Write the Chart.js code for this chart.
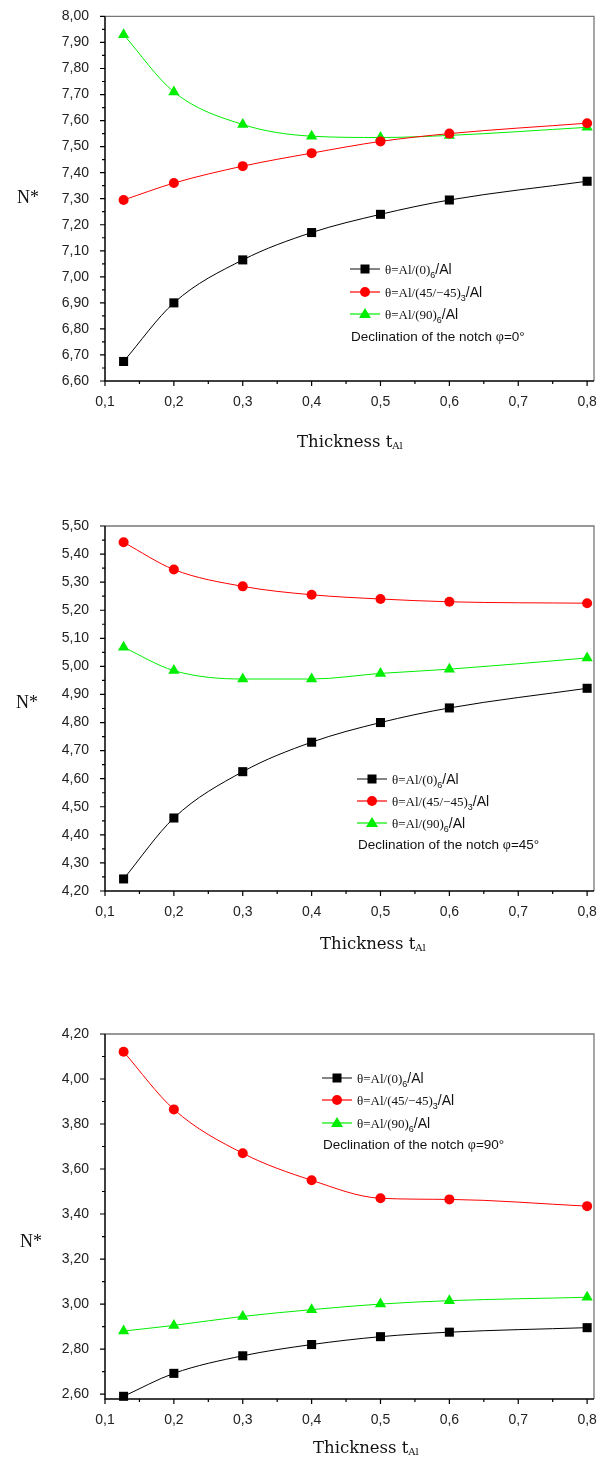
<!DOCTYPE html>
<html lang="en">
<head>
  <meta charset="UTF-8">
  <title>N* vs thickness</title>
  <script src="https://cdn.jsdelivr.net/npm/chart.js"></script>
  <style>
    body { margin: 0; background: #fff; }
    #page { position: relative; width: 605px; height: 1461px; overflow: hidden; }
    canvas { position: absolute; left: 0; }
    .ytitle { position: absolute; font-family: 'Liberation Serif', serif; font-size: 18px; line-height: 22px; color: #111; }
    .xtitle { position: absolute; font-family: 'DejaVu Serif', serif; font-size: 16.5px; line-height: 22px; color: #111; }
    .xtitle sub { font-size: 10px; vertical-align: -2px; }
    .leg { position: absolute; height: 22px; line-height: 22px; display: flex; align-items: center; white-space: nowrap; color: #111; }
    .leg svg { margin-right: 5px; flex: none; }
    .ser { font-family: 'Liberation Serif', serif; font-size: 13px; }
    .san { font-family: 'Liberation Sans', sans-serif; font-size: 14px; }
    .leg sub { font-family: 'Liberation Sans', sans-serif; font-size: 9px; vertical-align: -4px; line-height: 0; }
    .decl { font-family: 'Liberation Sans', sans-serif; font-size: 13.5px; }
  </style>
</head>
<body>
<div id="page">
  <canvas id="c1" width="605" height="470" style="top:0"></canvas>
  <canvas id="c2" width="605" height="490" style="top:480px"></canvas>
  <canvas id="c3" width="605" height="481" style="top:980px"></canvas>
  <div id="overlay"></div>
</div>

<script>
// thickness t_Al
const thickness = [0.127, 0.2, 0.3, 0.4, 0.5, 0.6, 0.8];

// declination 0°
const p0_lam0  = [6.675, 6.90, 7.065, 7.17, 7.24, 7.295, 7.367];
const p0_lam45 = [7.295, 7.36, 7.425, 7.475, 7.52, 7.55, 7.59];
const p0_lam90 = [7.93, 7.71, 7.585, 7.54, 7.535, 7.543, 7.574];

// declination 45°
const p45_lam0  = [4.243, 4.46, 4.625, 4.73, 4.80, 4.852, 4.922];
const p45_lam45 = [5.442, 5.345, 5.285, 5.255, 5.24, 5.23, 5.225];
const p45_lam90 = [5.068, 4.985, 4.955, 4.955, 4.975, 4.99, 5.03];

// declination 90°
const p90_lam0  = [2.59, 2.692, 2.77, 2.82, 2.855, 2.875, 2.895];
const p90_lam45 = [4.121, 3.865, 3.67, 3.55, 3.47, 3.465, 3.435];
const p90_lam90 = [2.88, 2.905, 2.945, 2.975, 3.0, 3.015, 3.03];

// tick values
const xMajor = [0.1, 0.2, 0.3, 0.4, 0.5, 0.6, 0.7, 0.8];
const xMinor = [0.15, 0.25, 0.35, 0.45, 0.55, 0.65, 0.75];
const y1Major = [6.6, 6.7, 6.8, 6.9, 7.0, 7.1, 7.2, 7.3, 7.4, 7.5, 7.6, 7.7, 7.8, 7.9, 8.0];
const y1Minor = [6.65, 6.75, 6.85, 6.95, 7.05, 7.15, 7.25, 7.35, 7.45, 7.55, 7.65, 7.75, 7.85, 7.95];
const y2Major = [4.2, 4.3, 4.4, 4.5, 4.6, 4.7, 4.8, 4.9, 5.0, 5.1, 5.2, 5.3, 5.4, 5.5];
const y2Minor = [4.25, 4.35, 4.45, 4.55, 4.65, 4.75, 4.85, 4.95, 5.05, 5.15, 5.25, 5.35, 5.45];
const y3Major = [2.6, 2.8, 3.0, 3.2, 3.4, 3.6, 3.8, 4.0, 4.2];
const y3Minor = [2.7, 2.9, 3.1, 3.3, 3.5, 3.7, 3.9, 4.1];

const seriesNames = ['θ=Al/(0)6/Al', 'θ=Al/(45/−45)3/Al', 'θ=Al/(90)6/Al'];

// draws the Origin-like frame and the major/minor ticks
const frame = {
  id: 'frame',
  afterDraw(chart, args, opts) {
    const {ctx, chartArea: a, scales: {x, y}} = chart;
    ctx.save();
    ctx.lineWidth = 1.3;
    ctx.strokeStyle = '#777';
    ctx.beginPath();
    ctx.moveTo(a.left, a.top); ctx.lineTo(a.right, a.top); ctx.lineTo(a.right, a.bottom);
    ctx.stroke();
    ctx.strokeStyle = '#000';
    ctx.lineWidth = 1.5;
    ctx.beginPath();
    ctx.moveTo(a.left, a.top); ctx.lineTo(a.left, a.bottom); ctx.lineTo(a.right, a.bottom);
    ctx.stroke();
    ctx.lineWidth = 1.2;
    ctx.beginPath();
    xMajor.forEach(v => { const px = x.getPixelForValue(v); ctx.moveTo(px, a.bottom); ctx.lineTo(px, a.bottom + 5); });
    xMinor.forEach(v => { const px = x.getPixelForValue(v); ctx.moveTo(px, a.bottom); ctx.lineTo(px, a.bottom + 3); });
    opts.yMajor.forEach(v => { const py = y.getPixelForValue(v); ctx.moveTo(a.left, py); ctx.lineTo(a.left - 5, py); });
    opts.yMinor.forEach(v => { const py = y.getPixelForValue(v); ctx.moveTo(a.left, py); ctx.lineTo(a.left - 3, py); });
    ctx.stroke();
    ctx.restore();
  }
};

function ds(label, vals, color, style, r) {
  return {
    label: label,
    data: thickness.map((t, i) => ({x: t, y: vals[i]})),
    borderColor: color,
    backgroundColor: color,
    borderWidth: 1,
    pointStyle: style,
    pointRadius: r,
    pointBorderWidth: 0,
    cubicInterpolationMode: 'monotone',
    clip: false
  };
}

function makeChart(id, s, yMin, yMax, yMajor, yMinor, plotTop, axisH) {
  new Chart(document.getElementById(id), {
    type: 'line',
    data: {
      datasets: [
        ds(seriesNames[0], s[0], '#000000', 'rect', 6.4),
        ds(seriesNames[1], s[1], '#ff0000', 'circle', 5),
        ds(seriesNames[2], s[2], '#00ee00', 'triangle', 6.5)
      ]
    },
    options: {
      responsive: false,
      animation: false,
      layout: { padding: { top: plotTop, right: 11, left: 0, bottom: 0 } },
      plugins: { legend: { display: false }, tooltip: { enabled: false }, frame: { yMajor, yMinor } },
      scales: {
        x: {
          type: 'linear', min: 0.1, max: 0.81,
          grid: { display: false }, border: { display: false },
          afterBuildTicks: sc => { sc.ticks = xMajor.map(v => ({value: v})); },
          afterFit: sc => { sc.height = axisH; },
          ticks: { padding: 5, color: '#222', font: { family: 'Liberation Sans', size: 14 },
                   callback: v => v.toFixed(1).replace('.', ',') }
        },
        y: {
          type: 'linear', min: yMin, max: yMax,
          grid: { display: false }, border: { display: false },
          afterBuildTicks: sc => { sc.ticks = yMajor.map(v => ({value: v})); },
          afterFit: sc => { sc.width = 105; },
          ticks: { padding: 8, color: '#222', font: { family: 'Liberation Sans', size: 14 },
                   callback: v => v.toFixed(2).replace('.', ',') }
        }
      }
    },
    plugins: [frame]
  });
}

makeChart('c1', [p0_lam0, p0_lam45, p0_lam90], 6.6, 8.0, y1Major, y1Minor, 16, 470 - 381);
makeChart('c2', [p45_lam0, p45_lam45, p45_lam90], 4.2, 5.5, y2Major, y2Minor, 46, 490 - 411);
makeChart('c3', [p90_lam0, p90_lam45, p90_lam90], 2.578, 4.2, y3Major, y3Minor, 54, 481 - 419);

// text overlays: axis titles and legends
const ov = document.getElementById('overlay');
function put(html, cls, left, cy) {
  const d = document.createElement('div');
  d.className = cls;
  d.innerHTML = html;
  d.style.left = left + 'px';
  d.style.top = (cy - 11) + 'px';
  ov.appendChild(d);
}
function sym(color, kind) {
  let m;
  if (kind === 'rect') m = `<rect x="10.5" y="6.5" width="9" height="9" fill="${color}"/>`;
  else if (kind === 'circle') m = `<circle cx="15" cy="11" r="5" fill="${color}"/>`;
  else m = `<polygon points="15,5 21,15 9,15" fill="${color}"/>`;
  return `<svg width="30" height="22"><line x1="0" y1="11" x2="30" y2="11" stroke="${color === '#000000' ? '#333' : color}" stroke-width="1.2"/>${m}</svg>`;
}
const legText = [
  '<span class="ser">θ=Al/(0)</span><sub>6</sub><span class="san">/Al</span>',
  '<span class="ser">θ=Al/(45/−45)</span><sub>3</sub><span class="san">/Al</span>',
  '<span class="ser">θ=Al/(90)</span><sub>6</sub><span class="san">/Al</span>'
];
const legStyle = [['#000000', 'rect'], ['#ff0000', 'circle'], ['#00ee00', 'triangle']];
function legend(left, rows, declY, phi) {
  rows.forEach((cy, i) => put(sym(legStyle[i][0], legStyle[i][1]) + '<span>' + legText[i] + '</span>', 'leg', left, cy));
  put(`<span>Declination of the notch <span class="ser" style="font-size:14px">φ</span>=${phi}°</span>`, 'leg decl', left + 1, declY);
}
legend(350, [269, 292, 314], 337, 0);
legend(357, [779, 801, 823], 845, 45);
legend(322, [1078, 1100, 1123], 1145, 90);

[[17, 197, 297, 442], [16, 702, 320, 944], [20, 1241, 313, 1448]].forEach(p => {
  put('N*', 'ytitle', p[0], p[1]);
  put('Thickness t<sub>Al</sub>', 'xtitle', p[2], p[3]);
});
</script>
</body>
</html>
